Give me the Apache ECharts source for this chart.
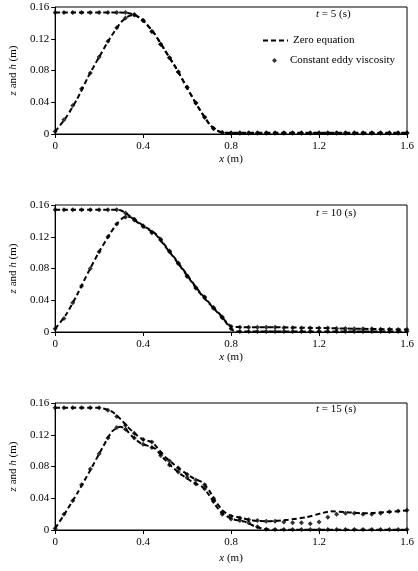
<!DOCTYPE html>
<html>
<head>
<meta charset="utf-8">
<script src="https://cdn.jsdelivr.net/npm/echarts@6/dist/echarts.min.js"></script>
<style>html,body{margin:0;padding:0;background:#fff}#c{width:418px;height:571px}</style>
</head>
<body>
<div id="c"></div>
<script>
// ---- data ----
var panelTimes = ['5', '10', '15'];
var xTicks = [0, 0.4, 0.8, 1.2, 1.6];
var yTicks = [0, 0.04, 0.08, 0.12, 0.16];

// Constant eddy viscosity points share this x grid (step 0.04)
var eddyX = [0,0.04,0.08,0.12,0.16,0.2,0.24,0.28,0.32,0.36,0.4,0.44,0.48,0.52,0.56,0.6,0.64,0.68,0.72,0.76,0.8,
  0.84,0.88,0.92,0.96,1.0,1.04,1.08,1.12,1.16,1.2,1.24,1.28,1.32,1.36,1.4,1.44,1.48,1.52,1.56,1.6];

// t = 5 s
var zeroZ5x = [0,0.05,0.1,0.15,0.2,0.25,0.3,0.33,0.36,0.4,0.45,0.5,0.55,0.6,0.65,0.7,0.73,0.76,0.8,1.2,1.6];
var zeroZ5y = [0.003,0.021,0.044,0.072,0.097,0.121,0.141,0.148,0.150,0.143,0.127,0.105,0.083,0.058,0.034,0.013,0.005,0.002,0.001,0.001,0.001];
var zeroH5x = [0,0.3,0.33,0.36,0.4,0.45,0.5,0.55,0.6,0.65,0.7,0.73,0.76,0.8,1.2,1.6];
var zeroH5y = [0.153,0.153,0.1525,0.1505,0.143,0.127,0.105,0.083,0.058,0.034,0.013,0.005,0.002,0.0015,0.0015,0.0015];
var eddyZ5 = [0.003,0.018,0.036,0.057,0.077,0.097,0.117,0.134,0.146,0.150,0.143,0.129,0.113,0.096,0.078,0.059,0.039,0.021,0.007,0.002,0.001,
  0.001,0.001,0.001,0.001,0.001,0.001,0.001,0.001,0.001,0.001,0.001,0.001,0.001,0.001,0.001,0.001,0.001,0.001,0.001,0.001];
var eddyH5 = [0.153,0.153,0.153,0.153,0.153,0.153,0.153,0.153,0.153,0.1505,0.143,0.129,0.113,0.096,0.078,0.059,0.039,0.021,0.007,0.002,0.0015,
  0.0015,0.0015,0.0015,0.0015,0.0015,0.0015,0.0015,0.0015,0.0015,0.0015,0.0015,0.0015,0.0015,0.0015,0.0015,0.0015,0.0015,0.0015,0.0015,0.0015];

// t = 10 s
var zeroZ10x = [0,0.05,0.1,0.15,0.2,0.25,0.28,0.31,0.34,0.37,0.4,0.43,0.46,0.5,0.55,0.6,0.65,0.7,0.75,0.78,0.8,0.82,1.2,1.6];
var zeroZ10y = [0.004,0.022,0.047,0.075,0.101,0.124,0.136,0.144,0.145,0.139,0.133,0.128,0.122,0.108,0.090,0.071,0.052,0.036,0.021,0.011,0.004,0.0005,0.0005,0.0005];
var zeroH10x = [0,0.28,0.3,0.32,0.34,0.37,0.4,0.43,0.46,0.5,0.55,0.6,0.65,0.7,0.75,0.78,0.8,0.9,1.0,1.2,1.4,1.6];
var zeroH10y = [0.154,0.154,0.153,0.150,0.146,0.140,0.134,0.129,0.123,0.109,0.091,0.072,0.053,0.037,0.022,0.012,0.007,0.006,0.006,0.005,0.004,0.003];
var eddyZ10 = [0.004,0.017,0.037,0.058,0.080,0.101,0.120,0.136,0.145,0.141,0.133,0.125,0.116,0.101,0.086,0.070,0.055,0.043,0.030,0.018,0.004,
  0.0005,0.0005,0.0005,0.0005,0.0005,0.0005,0.0005,0.0005,0.0005,0.0005,0.0005,0.0005,0.0005,0.0005,0.0005,0.0005,0.0005,0.0005,0.0005,0.0005];
var eddyH10 = [0.154,0.154,0.154,0.154,0.154,0.154,0.154,0.154,0.150,0.142,0.134,0.126,0.117,0.102,0.087,0.071,0.056,0.044,0.031,0.019,0.007,
  0.006,0.006,0.006,0.006,0.006,0.0055,0.0055,0.005,0.005,0.005,0.005,0.0045,0.0045,0.004,0.004,0.004,0.0035,0.0035,0.003,0.003];

// t = 15 s
var zeroZ15x = [0,0.04,0.1,0.155,0.214,0.258,0.295,0.317,0.346,0.391,0.435,0.457,0.494,0.53,0.568,0.627,0.671,0.70,0.73,0.76,0.804,0.863,0.907,0.951,1.0,1.6];
var zeroZ15y = [0.002,0.019,0.046,0.073,0.103,0.124,0.130,0.128,0.119,0.109,0.105,0.102,0.090,0.080,0.071,0.060,0.054,0.044,0.031,0.021,0.014,0.0105,0.0047,0.0013,0.0003,0.0003];
var zeroH15x = [0,0.2,0.22,0.26,0.3,0.33,0.36,0.4,0.44,0.46,0.5,0.53,0.57,0.63,0.67,0.7,0.73,0.76,0.79,0.85,0.9,0.97,1.06,1.14,1.21,1.25,1.33,1.39,1.45,1.5,1.6];
var zeroH15y = [0.154,0.154,0.153,0.149,0.139,0.130,0.122,0.114,0.111,0.105,0.092,0.085,0.076,0.065,0.060,0.050,0.036,0.025,0.019,0.015,0.012,0.011,0.013,0.016,0.021,0.0235,0.0225,0.021,0.0215,0.0225,0.0245];
var eddyZ15 = [0.002,0.020,0.037,0.057,0.077,0.096,0.116,0.129,0.127,0.116,0.108,0.104,0.094,0.082,0.073,0.066,0.058,0.052,0.036,0.020,0.014,
  0.012,0.009,0.004,0.001,0.0005,0.0005,0.0005,0.0005,0.0005,0.0005,0.0005,0.0005,0.0005,0.0005,0.0005,0.0005,0.0005,0.0005,0.0005,0.0005];
var eddyH15 = [0.154,0.154,0.154,0.154,0.154,0.154,0.151,0.143,0.132,0.122,0.114,0.111,0.097,0.087,0.078,0.070,0.063,0.057,0.040,0.022,0.017,
  0.015,0.013,0.012,0.011,0.011,0.010,0.009,0.009,0.008,0.010,0.016,0.020,0.021,0.021,0.020,0.020,0.021,0.023,0.024,0.025];

// ---- build ----
function pairs(xs, ys){ return xs.map(function(x,i){ return [x, ys[i]]; }); }
var FONT = '"Liberation Serif","Times New Roman",serif';
var ZERO = 'Zero equation', EDDY = 'Constant eddy viscosity';
var panels = [
  {zz: pairs(zeroZ5x, zeroZ5y), zh: pairs(zeroH5x, zeroH5y), ez: pairs(eddyX, eddyZ5), eh: pairs(eddyX, eddyH5)},
  {zz: pairs(zeroZ10x, zeroZ10y), zh: pairs(zeroH10x, zeroH10y), ez: pairs(eddyX, eddyZ10), eh: pairs(eddyX, eddyH10)},
  {zz: pairs(zeroZ15x, zeroZ15y), zh: pairs(zeroH15x, zeroH15y), ez: pairs(eddyX, eddyZ15), eh: pairs(eddyX, eddyH15)}
];
var gridTops = [7, 205, 403];
var gridLefts = [47, 47, 45];
var nameGaps = [20, 20, 23];
var titleTops = [9, 208, 404];

var grids = [], xAxes = [], yAxes = [], series = [], titles = [];
var it = {fontStyle: 'italic', fontWeight: 'normal', fontFamily: FONT, fontSize: 11, color: '#000'};
var nm = {fontWeight: 'normal', fontFamily: FONT, fontSize: 11, color: '#000'};
panels.forEach(function(p, i){
  grids.push({left: gridLefts[i], right: 11, top: gridTops[i], height: 127, show: true, borderColor: '#000', borderWidth: 1, backgroundColor: 'transparent'});
  xAxes.push({type: 'value', gridIndex: i, min: xTicks[0], max: xTicks[xTicks.length-1], interval: 0.4,
    axisLine: {lineStyle: {color: '#000', width: 1}}, axisTick: {show: true, inside: false, length: 4, lineStyle: {color: '#000'}},
    axisLabel: {margin: 7, fontFamily: FONT, fontSize: 11, color: '#000'}, splitLine: {show: false},
    name: '{i|x}{n| (m)}', nameLocation: 'middle', nameGap: nameGaps[i], nameTextStyle: {rich: {i: it, n: nm}}});
  yAxes.push({type: 'value', gridIndex: i, min: yTicks[0], max: yTicks[yTicks.length-1], interval: 0.04,
    axisLine: {show: true, lineStyle: {color: '#000', width: 1}}, axisTick: {show: true, inside: false, length: 4, lineStyle: {color: '#000'}},
    axisLabel: {margin: 6, fontFamily: FONT, fontSize: 11, color: '#000'}, splitLine: {show: false},
    name: '{i|z}{n| and }{i|h}{n| (m)}', nameLocation: 'middle', nameRotate: 90, nameGap: 30, nameTextStyle: {rich: {i: it, n: nm}}});
  var ls = {color: '#000', width: 2, type: [5, 3]};
  series.push({name: ZERO, type: 'line', xAxisIndex: i, yAxisIndex: i, data: p.zz, showSymbol: false, symbol: 'none', smooth: 0.2, lineStyle: ls, itemStyle: {color: '#000'}, z: 2});
  series.push({name: ZERO, type: 'line', xAxisIndex: i, yAxisIndex: i, data: p.zh, showSymbol: false, symbol: 'none', smooth: 0.2, lineStyle: ls, itemStyle: {color: '#000'}, z: 2});
  series.push({name: EDDY, type: 'scatter', xAxisIndex: i, yAxisIndex: i, data: p.ez, symbol: 'diamond', symbolSize: 5, itemStyle: {color: '#000'}, z: 3});
  series.push({name: EDDY, type: 'scatter', xAxisIndex: i, yAxisIndex: i, data: p.eh, symbol: 'diamond', symbolSize: 5, itemStyle: {color: '#000'}, z: 3});
  titles.push({text: '{i|t}{n| = ' + panelTimes[i] + ' (s)}', left: 316, top: titleTops[i], padding: 0, textStyle: {fontWeight: 'normal', rich: {i: it, n: nm}}});
});

var chart = echarts.init(document.getElementById('c'), null, {renderer: 'canvas'});
chart.setOption({
  animation: false,
  backgroundColor: '#fff',
  title: titles,
  legend: [
    {data: [{name: ZERO, itemStyle: {opacity: 0}}], left: 262, top: 35, padding: 0, itemWidth: 25, itemHeight: 10, textStyle: {fontFamily: FONT, fontSize: 11, color: '#000'}, selectedMode: false},
    {data: [{name: EDDY, icon: 'diamond'}], left: 272, top: 55, padding: 0, itemWidth: 5, itemHeight: 5, textStyle: {fontFamily: FONT, fontSize: 11, color: '#000', padding: [0,0,0,8]}, selectedMode: false}
  ],
  grid: grids,
  xAxis: xAxes,
  yAxis: yAxes,
  series: series
});
</script>
</body>
</html>
